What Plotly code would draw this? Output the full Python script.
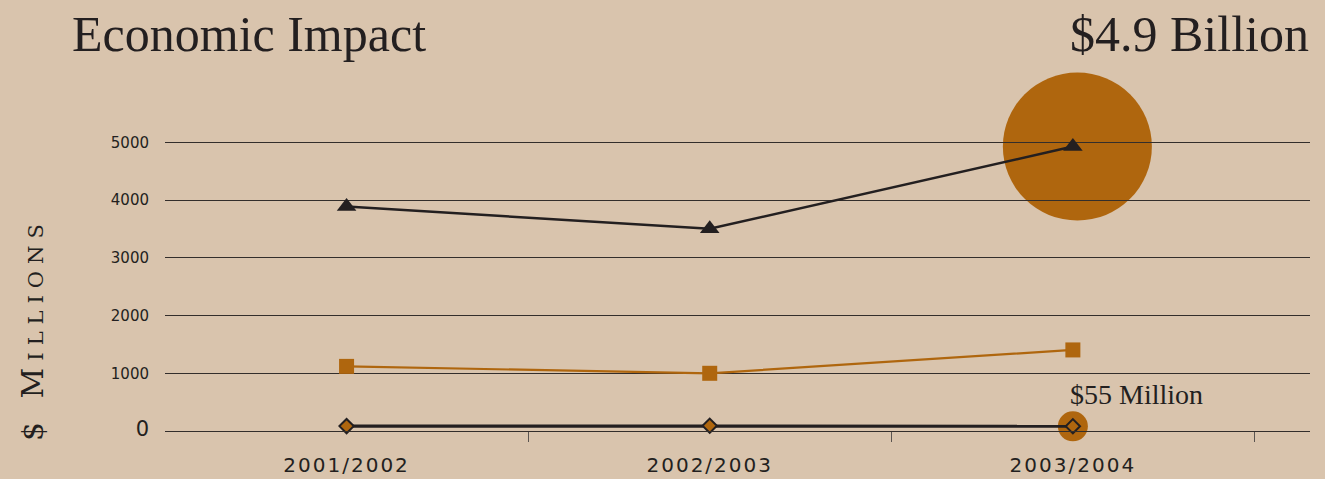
import plotly.graph_objects as go

# ---- data ----
categories = ["2001/2002", "2002/2003", "2003/2004"]
total_impact = [3890, 3505, 4930]        # black triangles ($ millions)
orange_series = [1120, 1000, 1405]       # orange squares
small_series = [85, 90, 82]              # diamonds
y_ticks = [0, 1000, 2000, 3000, 4000, 5000]
y_tick_labels = ["<span style='font-size:21px'>0</span>", "1000", "2000", "3000", "4000", "5000"]
title_left = "Economic Impact"
title_right = "$4.9 Billion"
small_label = "$55 Million"
y_title = "$ Millions"

x_idx = list(range(len(categories)))

DARK = "#231F20"
ORANGE = "#AF660E"
BG = "#D9C4AD"
GRID = "#332E2B"

# plot area geometry (pixels)
L, R, T, B = 165, 15, 60, 48
W, H = 1325, 479
pw, ph = W - L - R, H - T - B


def px_x(px):
    return (px - L) / pw


def px_y(py):
    return (H - B - py) / ph


fig = go.Figure()

# small highlight circle behind last diamond
fig.add_trace(go.Scatter(
    x=[x_idx[-1]], y=[small_series[-1]], mode="markers",
    marker=dict(size=30, color=ORANGE, line=dict(width=0)),
    cliponaxis=False, hoverinfo="skip", showlegend=False))

fig.add_trace(go.Scatter(
    x=x_idx, y=orange_series, mode="lines+markers",
    line=dict(color=ORANGE, width=2.2),
    marker=dict(symbol="square", size=15, color=ORANGE),
    cliponaxis=False, showlegend=False))

fig.add_trace(go.Scatter(
    x=x_idx, y=total_impact, mode="lines+markers",
    line=dict(color=DARK, width=2.5),
    marker=dict(symbol="triangle-up", size=17, color=DARK),
    cliponaxis=False, showlegend=False))

fig.add_trace(go.Scatter(
    x=x_idx, y=small_series, mode="lines+markers",
    line=dict(color=DARK, width=3.2),
    marker=dict(symbol="diamond", size=11, color=ORANGE, line=dict(color=DARK, width=2)),
    cliponaxis=False, showlegend=False))

# big highlight circle behind the 4.9 billion point (below gridlines)
fig.add_shape(type="circle", xref="x", yref="y",
              xsizemode="pixel", ysizemode="pixel",
              xanchor=x_idx[-1], yanchor=total_impact[-1],
              x0=-70, x1=79, y0=-74, y1=74,
              fillcolor=ORANGE, line=dict(width=0), layer="below")

fig.update_xaxes(
    range=[-0.5, 2.653], automargin=False,
    tickmode="array", tickvals=x_idx,
    ticktext=["<span style='letter-spacing:2px'>%s</span>" % c for c in categories],
    ticks="", showgrid=False, zeroline=False,
    showline=True, linecolor=GRID, linewidth=1.3,
    tickfont=dict(family="DejaVu Sans", size=20, color=DARK),
    ticklabelstandoff=16,
    minor=dict(tickmode="array", tickvals=[0.5, 1.5, 2.5], ticks="outside",
               ticklen=10, tickwidth=1.2, tickcolor="#5a5450", showgrid=False),
)
fig.update_yaxes(
    range=[0, ph / 0.0577], automargin=False,
    tickmode="array", tickvals=y_ticks, ticktext=y_tick_labels,
    showgrid=True, gridcolor=GRID, gridwidth=1.3,
    zeroline=True, zerolinecolor=GRID, zerolinewidth=1.3,
    showline=False, ticks="",
    tickfont=dict(family="DejaVu Sans", size=15, color=DARK),
    ticklabelstandoff=15,
)

ann_font = dict(family="Liberation Serif", size=50, color=DARK)
fig.add_annotation(text=title_left, xref="paper", yref="paper",
                   x=px_x(70), y=px_y(34), xanchor="left", yanchor="middle",
                   showarrow=False, font=ann_font)
fig.add_annotation(text=title_right, xref="paper", yref="paper",
                   x=px_x(1311), y=px_y(34), xanchor="right", yanchor="middle",
                   showarrow=False, font=ann_font)
fig.add_annotation(text=small_label, xref="paper", yref="paper",
                   x=px_x(1068), y=px_y(394), xanchor="left", yanchor="middle",
                   showarrow=False, font=dict(family="Liberation Serif", size=28, color=DARK))
fig.add_annotation(text="<span style='letter-spacing:7px;font-variant:small-caps'>%s</span>" % y_title,
                   xref="paper", yref="paper",
                   x=px_x(32), y=px_y(329), xanchor="center", yanchor="middle",
                   textangle=-90, showarrow=False,
                   font=dict(family="DejaVu Serif", size=30, color=DARK))

fig.update_layout(
    width=W, height=H,
    margin=dict(l=L, r=R, t=T, b=B, pad=0),
    paper_bgcolor=BG, plot_bgcolor="rgba(0,0,0,0)",
    showlegend=False,
)

fig.write_html("out.html")
